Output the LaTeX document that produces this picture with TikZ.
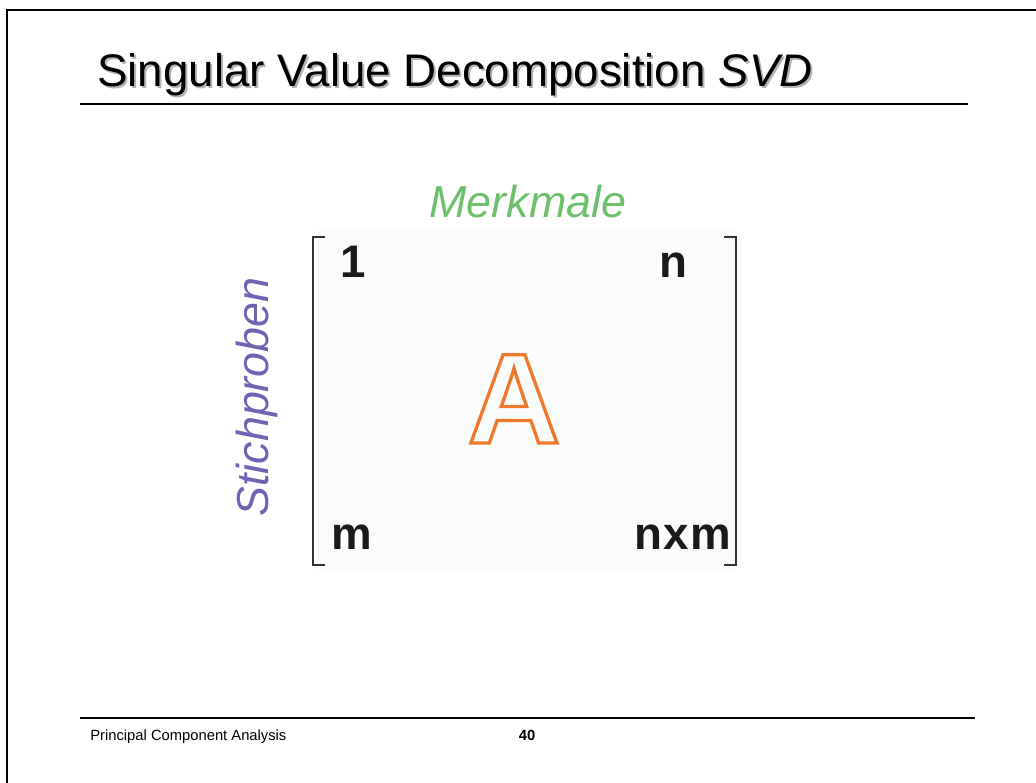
\documentclass[tikz,border=0pt]{standalone}
\usepackage{fontspec}
\setmainfont{Liberation Sans}
\usetikzlibrary{calc}

\definecolor{framegray}{HTML}{000000}
\definecolor{shadowgray}{HTML}{B4B4B4}
\definecolor{merkgreen}{HTML}{6CC06C}
\definecolor{stichpurple}{HTML}{6E64B4}
\definecolor{aorange}{HTML}{F0782D}
\definecolor{matrixbg}{HTML}{FAFCFC}
\definecolor{bracketgray}{HTML}{333333}
\definecolor{entryblack}{HTML}{1A1A1A}

\tikzset{
  rule/.style={line width=1.1pt, black},
  bracket/.style={line width=1.4pt, bracketgray},
  titletext/.style={inner sep=0pt, font=\fontsize{26}{30}\selectfont},
  entry/.style={inner sep=0pt, text=entryblack, font=\fontsize{26}{30}\selectfont\bfseries},
  axislabel/.style={inner sep=0pt, font=\fontsize{25.5}{30}\selectfont\itshape},
  foot/.style={inner sep=0pt, font=\fontsize{8.4}{10}\selectfont}
}

\begin{document}
\begin{tikzpicture}[x=0.02cm, y=-0.02cm]
  \useasboundingbox (0,0) rectangle (1036,783);

  % slide frame (top and left edges)
  \coordinate (frameTL) at (7,10);
  \coordinate (frameTR) at (1036,10);
  \coordinate (frameBL) at (7,783);
  \draw[line width=1.2pt, framegray] (frameTR) -- (frameTL) -- (frameBL);

  % title with drop shadow
  \node[titletext, text=shadowgray, anchor=base west] (titleshadow) at (99,89)
    {Singular Value Decomposition \textit{SVD}};
  \node[titletext, text=black, anchor=base west] (title) at (97,87)
    {Singular Value Decomposition \textit{SVD}};
  \coordinate (titleruleL) at (80,104);
  \coordinate (titleruleR) at (968,104);
  \draw[rule] (titleruleL) -- (titleruleR);

  % matrix background and brackets
  \fill[matrixbg] (318,229) rectangle (735,572);
  \coordinate (lbTop) at (325,237);
  \coordinate (lbBot) at (325,565);
  \coordinate (rbTop) at (724,237);
  \coordinate (rbBot) at (724,565);
  \draw[bracket] (lbTop) -- (313,237) -- (313,565) -- (lbBot);
  \draw[bracket] (rbTop) -- (736,237) -- (736,565) -- (rbBot);

  % matrix entries
  \node[entry, anchor=base west] (e11) at (340,278) {1};
  \node[entry, anchor=base east] (e1n) at (688,278) {n};
  \node[entry, anchor=base west] (em1) at (331,550) {m};
  \node[entry, anchor=base east] (emn) at (732,550) {n\kern1pt x\kern1pt m};

  % outlined matrix name
  \node[inner sep=0pt, anchor=base, text=aorange,
        font=\fontsize{73}{80}\selectfont\bfseries] (Aname) at (514,443)
    {\special{pdf:literal direct 1 Tr 1.9 w}A\special{pdf:literal direct 0 Tr}};

  % axis labels
  \node[axislabel, text=merkgreen, anchor=base] (merkmale) at (528,218) {Merkmale};
  \node[axislabel, text=stichpurple, anchor=base, rotate=90] (stichproben) at (268,397) {Stichproben};

  % footer
  \coordinate (footruleL) at (80,718);
  \coordinate (footruleR) at (975,718);
  \draw[rule] (footruleL) -- (footruleR);
  \node[foot, anchor=base west] (footleft) at (90,741) {Principal Component Analysis};
  \node[foot, anchor=base, font=\fontsize{8.4}{10}\selectfont\bfseries] (pagenum) at (527,741) {40};
\end{tikzpicture}
\end{document}
